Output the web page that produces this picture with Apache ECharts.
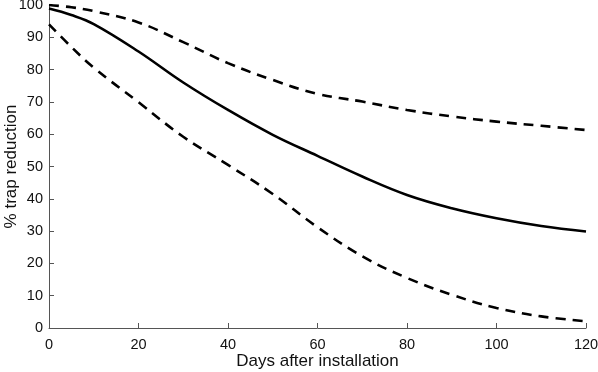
<!DOCTYPE html>
<html>
<head>
<meta charset="utf-8">
<script src="https://cdn.jsdelivr.net/npm/echarts@6/dist/echarts.min.js"></script>
<style>html,body{margin:0;padding:0;background:#fff}#c{width:598px;height:372px}</style>
</head>
<body>
<div id="c"></div>
<script>
const days = [0, 5, 10, 20, 30, 40, 50, 60, 70, 80, 90, 100, 110, 120];
const meanReduction = [98.9, 96.9, 94.1, 85.6, 76.0, 67.5, 59.8, 53.3, 46.9, 41.2, 37.1, 34.0, 31.6, 29.9];
const upperBound = [100, 99.3, 98.1, 94.6, 88.5, 82, 76.8, 72.5, 70.1, 67.5, 65.5, 63.9, 62.6, 61.3];
const lowerBound = [94, 87, 80.6, 69.9, 59.2, 50.5, 41.5, 31.2, 22.2, 15.5, 10.3, 6.2, 3.6, 2.1];
const xTicks = [0, 20, 40, 60, 80, 100, 120];
const yTicks = [0, 10, 20, 30, 40, 50, 60, 70, 80, 90, 100];

const font = '"Liberation Sans", Arial, Helvetica, sans-serif';
const pair = arr => days.map((d, i) => [d, arr[i]]);
const chart = echarts.init(document.getElementById('c'));
chart.setOption({
  animation: false,
  grid: { left: 49, right: 12, top: 5, bottom: 44, outerBoundsMode: 'none', containLabel: false },
  xAxis: {
    type: 'value', min: xTicks[0], max: xTicks[xTicks.length - 1], interval: xTicks[1] - xTicks[0],
    name: 'Days after installation', nameLocation: 'middle', nameGap: 25, nameMoveOverlap: false,
    nameTextStyle: { fontFamily: font, fontSize: 17, color: '#111' },
    axisLine: { show: true, lineStyle: { color: '#555', width: 1 } },
    axisTick: { show: true, inside: true, length: 5, lineStyle: { color: '#555' } },
    axisLabel: { fontFamily: font, fontSize: 14.5, color: '#111', margin: 9 },
    splitLine: { show: false }
  },
  yAxis: {
    type: 'value', min: yTicks[0], max: yTicks[yTicks.length - 1], interval: yTicks[1] - yTicks[0],
    name: '% trap reduction', nameLocation: 'middle', nameGap: 29, nameMoveOverlap: false,
    nameTextStyle: { fontFamily: font, fontSize: 17, color: '#111' },
    axisLine: { show: true, lineStyle: { color: '#555', width: 1 } },
    axisTick: { show: true, inside: true, length: 5, lineStyle: { color: '#555' } },
    axisLabel: { fontFamily: font, fontSize: 14.5, color: '#111', margin: 6 },
    splitLine: { show: false }
  },
  series: [
    { type: 'line', data: pair(upperBound), smooth: 0.4, showSymbol: false,
      lineStyle: { color: '#000', width: 2.6, type: [10, 7] } },
    { type: 'line', data: pair(meanReduction), smooth: 0.4, showSymbol: false,
      lineStyle: { color: '#000', width: 2.6 } },
    { type: 'line', data: pair(lowerBound), smooth: 0.4, showSymbol: false,
      lineStyle: { color: '#000', width: 2.6, type: [10, 7] } }
  ]
});
</script>
</body>
</html>
